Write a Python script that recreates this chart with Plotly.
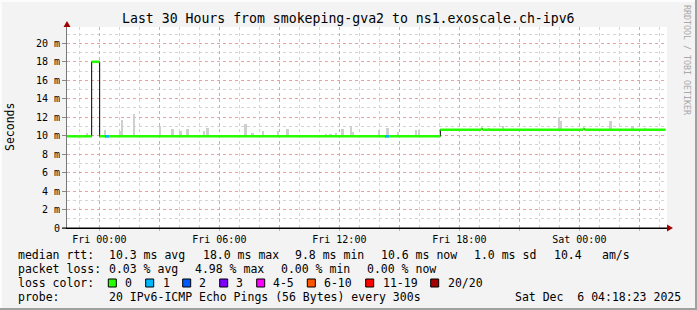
import plotly.graph_objects as go
import pandas as pd

# ---------------- data ----------------
x_start = "2025-12-04 22:23"
x_end = "2025-12-06 04:23"

# median rtt (ms) as a step function: value holds from time i until time i+1
median_times = ["2025-12-04 22:24", "2025-12-04 23:37", "2025-12-05 00:01",
                "2025-12-05 17:03", "2025-12-05 19:05", "2025-12-05 19:10",
                "2025-12-06 00:11", "2025-12-06 00:16", "2025-12-06 04:18"]
median_vals = [9.93, 18.0, 9.93, 10.64, 10.75, 10.64, 10.75, 10.64, 10.64]

# packet-loss colour periods (start, end, loss bucket)
loss_start = ["2025-12-05 00:17", "2025-12-05 14:17"]
loss_end = ["2025-12-05 00:29", "2025-12-05 14:29"]
loss_bucket = ["1", "1"]

# smoke (ping spread) tops in ms
smoke_times = ["2025-12-04 23:24", "2025-12-05 00:17", "2025-12-05 01:02", "2025-12-05 01:09",
               "2025-12-05 01:44", "2025-12-05 03:02", "2025-12-05 03:40", "2025-12-05 04:04",
               "2025-12-05 04:25", "2025-12-05 05:14", "2025-12-05 05:25", "2025-12-05 07:19",
               "2025-12-05 07:40", "2025-12-05 08:12", "2025-12-05 08:57", "2025-12-05 09:25",
               "2025-12-05 10:37", "2025-12-05 11:20", "2025-12-05 11:34", "2025-12-05 11:50",
               "2025-12-05 12:10", "2025-12-05 12:35", "2025-12-05 12:42", "2025-12-05 14:00",
               "2025-12-05 14:25", "2025-12-05 14:57", "2025-12-05 15:50", "2025-12-05 16:00",
               "2025-12-05 19:29", "2025-12-05 20:12", "2025-12-05 23:00", "2025-12-05 23:04",
               "2025-12-06 01:34", "2025-12-06 02:40", "2025-12-06 03:17"]
smoke_tops = [10.3, 10.6, 10.5, 11.7, 12.4, 11.0, 10.7, 10.5, 10.7, 10.5, 10.85, 11.25,
              10.3, 10.5, 10.5, 10.7, 10.1, 10.2, 10.2, 10.3, 10.7, 11.0, 10.4, 10.6,
              10.8, 10.4, 10.6, 10.6, 10.8, 11.0, 12.0, 11.6, 11.6, 11.0, 10.8]

y_tick_vals = [0, 2, 4, 6, 8, 10, 12, 14, 16, 18, 20]
y_tick_text = ["0", "2 m", "4 m", "6 m", "8 m", "10 m", "12 m", "14 m", "16 m", "18 m", "20 m"]
y_max = 21.77

title = "Last 30 Hours from smokeping-gva2 to ns1.exoscale.ch-ipv6"

loss_labels = ["0", "1", "2", "3", "4-5", "6-10", "11-19", "20/20"]
loss_colors = ["#26ff00", "#00b8ff", "#0059ff", "#7e00ff", "#ff00ff", "#ff5500", "#ff0000", "#a10000"]

stats_rtt = ["10.3 ms avg", "18.0 ms max", "9.8 ms min", "10.6 ms now", "1.0 ms sd", "10.4", "am/s"]
stats_loss = ["0.03 % avg", "4.98 % max", "0.00 % min", "0.00 % now"]
probe_text = "20 IPv6-ICMP Echo Pings (56 Bytes) every 300s"
stamp_text = "Sat Dec  6 04:18:23 2025"

# ---------------- geometry ----------------
W, H = 697, 310
L, R, T, B = 67, 667, 27, 228
FONT = "DejaVu Sans Mono"


def px(x):
    return (x - L) / (R - L)


def py(y):
    return (B - y) / (B - T)


mt = pd.to_datetime(median_times)
st = pd.to_datetime(smoke_times)


def median_at(t):
    v = median_vals[0]
    for ti, vi in zip(mt, median_vals):
        if ti <= t:
            v = vi
    return v


smoke_base = [median_at(t) for t in st]
smoke_h = [top - b for top, b in zip(smoke_tops, smoke_base)]

fig = go.Figure()

fig.add_trace(go.Bar(x=smoke_times, y=smoke_h, base=smoke_base, width=300000,
                     marker=dict(color="#cfcfcf", line=dict(width=0)),
                     hoverinfo="skip", showlegend=False))

# black median step line
fig.add_trace(go.Scatter(x=median_times, y=median_vals, mode="lines",
                         line=dict(color="#000000", width=1, shape="hv"),
                         showlegend=False, hoverinfo="skip"))

# green (loss 0) horizontal segments
gx, gy = [], []
for i in range(len(median_times) - 1):
    gx += [median_times[i], median_times[i + 1], None]
    gy += [median_vals[i], median_vals[i], None]
fig.add_trace(go.Scatter(x=gx, y=gy, mode="lines", line=dict(color=loss_colors[0], width=2.5),
                         showlegend=False, hoverinfo="skip"))

# loss-coloured segments
for s, e, b in zip(loss_start, loss_end, loss_bucket):
    v = median_at(pd.Timestamp(s))
    fig.add_trace(go.Scatter(x=[s, e], y=[v, v], mode="lines",
                             line=dict(color=loss_colors[loss_labels.index(b)], width=2.5),
                             showlegend=False, hoverinfo="skip"))

# x ticks every 3h, labels every 6h
tv = pd.date_range("2025-12-05 00:00", "2025-12-06 03:00", freq="3h")
x_tick_vals = list(tv)
x_tick_text = [t.strftime("%a %H:%M") if t.hour % 6 == 0 else "" for t in tv]

fig.update_xaxes(type="date", range=[x_start, x_end], tickvals=x_tick_vals, ticktext=x_tick_text,
                 showgrid=True, gridcolor="#e6a3a3", griddash="dot", gridwidth=1,
                 ticks="outside", ticklen=2, tickcolor="#e6a3a3",
                 minor=dict(dtick=3600000, tick0="2025-12-05 00:00", showgrid=True,
                            gridcolor="#d4d4d4", griddash="dot", ticks=""),
                 showline=True, linecolor="#000000", linewidth=1,
                 tickfont=dict(family=FONT, size=10, color="#000"), zeroline=False,
                 fixedrange=True)
fig.update_yaxes(range=[0, y_max], tickvals=y_tick_vals, ticktext=y_tick_text,
                 showgrid=True, gridcolor="#e6a3a3", griddash="dot", gridwidth=1,
                 minor=dict(dtick=1, showgrid=True, gridcolor="#d4d4d4", griddash="dot"),
                 ticks="outside", ticklen=4, tickcolor="#888888",
                 showline=True, linecolor="#777777", linewidth=1, zeroline=False,
                 tickfont=dict(family=FONT, size=10, color="#000"), fixedrange=True)

ann = []


def text(x, y, s, size=11.5, color="#000", anchor="left", angle=0):
    ann.append(dict(x=px(x), y=py(y), xref="paper", yref="paper", text=s, showarrow=False,
                    xanchor=anchor, yanchor="middle", textangle=angle,
                    font=dict(family=FONT, size=size, color=color)))


text(348.5, 19, title, size=13.2, anchor="center")
text(10, 127, "Seconds", size=11.5, anchor="center", angle=-90)
text(687, 60, "RRDTOOL / TOBI OETIKER", size=8.3, color="#a8a8a8", anchor="center", angle=90)

y1, y2, y3, y4 = 254.5, 268.5, 282.5, 296.5
text(16, y1, "median rtt:")
for xx, s in zip([107.3, 200.7, 293.3, 379.3, 472.3, 551.7, 600], stats_rtt):
    text(xx, y1, s)
text(16, y2, "packet loss:")
for xx, s in zip([107.3, 193.0, 279.3, 365], stats_loss):
    text(xx, y2, s)
text(16, y3, "loss color:")
box_x = [108.3, 145.7, 182.7, 219.7, 256.7, 307.3, 365.7, 430.7]
lab_x = [123.3, 160.7, 197.3, 234.3, 270.7, 321.7, 380.7, 445.7]
shapes = []
for bx, lx, lab, col in zip(box_x, lab_x, loss_labels, loss_colors):
    text(lx, y3, lab)
    shapes.append(dict(type="rect", xref="paper", yref="paper",
                       x0=px(bx), x1=px(bx + 8), y0=py(y3 + 4.5), y1=py(y3 - 3.5),
                       fillcolor=col, line=dict(color="#000", width=1)))
text(16, y4, "probe:")
text(107.3, y4, probe_text)
text(513.3, y4, stamp_text)

# axis arrows
shapes.append(dict(type="path", xref="paper", yref="paper",
                   path=f"M {px(63.5)} {py(27)} L {px(70.5)} {py(27)} L {px(67)} {py(21)} Z",
                   fillcolor="#a00000", line=dict(color="#a00000", width=0)))
shapes.append(dict(type="path", xref="paper", yref="paper",
                   path=f"M {px(667)} {py(224.5)} L {px(667)} {py(231.5)} L {px(673)} {py(228)} Z",
                   fillcolor="#a00000", line=dict(color="#a00000", width=0)))
# extend x axis line to the left of y axis
shapes.append(dict(type="line", xref="paper", yref="paper", x0=px(62), x1=px(667),
                   y0=0, y1=0, line=dict(color="#000", width=1)))
# 3D border
shapes.append(dict(type="rect", xref="paper", yref="paper", x0=px(0), x1=px(W), y0=py(H), y1=py(H - 2),
                   fillcolor="#a0a0a0", line=dict(width=0), layer="below"))
shapes.append(dict(type="rect", xref="paper", yref="paper", x0=px(W - 2), x1=px(W), y0=py(H), y1=py(0),
                   fillcolor="#a0a0a0", line=dict(width=0), layer="below"))
shapes.append(dict(type="rect", xref="paper", yref="paper", x0=px(0), x1=px(W - 2), y0=py(2), y1=py(0),
                   fillcolor="#fcfcfc", line=dict(width=0), layer="below"))
shapes.append(dict(type="rect", xref="paper", yref="paper", x0=px(0), x1=px(2), y0=py(H - 2), y1=py(0),
                   fillcolor="#fcfcfc", line=dict(width=0), layer="below"))

fig.update_layout(width=W, height=H, margin=dict(l=L, r=W - R, t=T, b=H - B, pad=0),
                  paper_bgcolor="#f3f3f3", plot_bgcolor="#ffffff",
                  barmode="overlay", bargap=0, showlegend=False,
                  annotations=ann, shapes=shapes, hovermode=False,
                  font=dict(family=FONT, color="#000"))

fig.write_html("out.html", config={"displayModeBar": False})
